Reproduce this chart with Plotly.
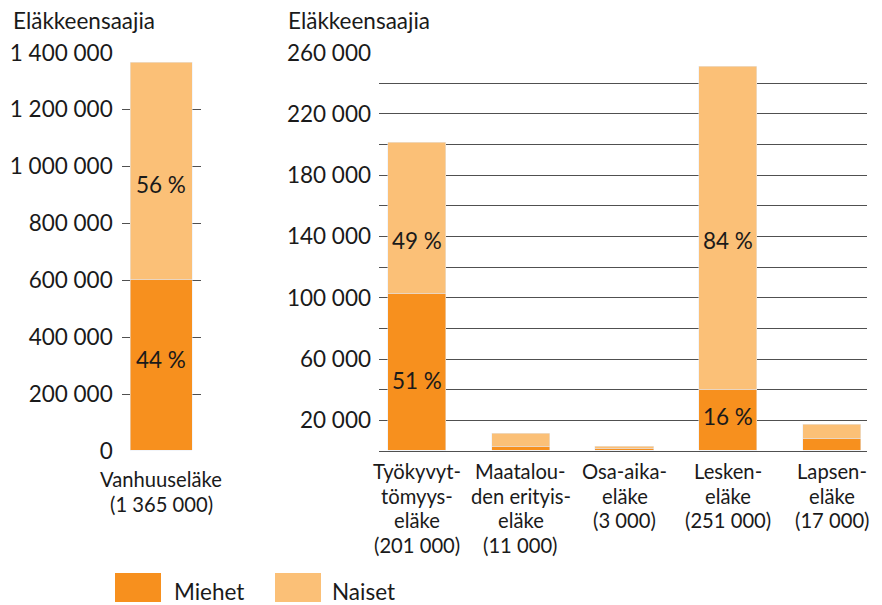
import plotly.graph_objects as go

# ---------------- data ----------------
left_cats = ["Vanhuuseläke"]
left_men = [601000]
left_women = [764000]
left_totals = ["1 365 000"]

right_cats = ["Työkyvyttömyyseläke", "Maatalouden erityiseläke", "Osa-aikaeläke",
              "Leskeneläke", "Lapseneläke"]
right_men = [102500, 3000, 1500, 40000, 8000]
right_women = [98500, 8000, 1500, 211000, 9000]
right_totals = ["201 000", "11 000", "3 000", "251 000", "17 000"]

left_label_lines = [["Vanhuuseläke", "(1 365 000)"]]
right_label_lines = [["Työkyvyt-", "tömyys-", "eläke", "(201 000)"],
                     ["Maatalou-", "den erityis-", "eläke", "(11 000)"],
                     ["Osa-aika-", "eläke", "(3 000)"],
                     ["Lesken-", "eläke", "(251 000)"],
                     ["Lapsen-", "eläke", "(17 000)"]]

left_ticks = [0, 200000, 400000, 600000, 800000, 1000000, 1200000, 1400000]
left_ticktext = ["0", "200 000", "400 000", "600 000", "800 000",
                 "1 000 000", "1 200 000", "1 400 000"]
right_ticks = [20000, 60000, 100000, 140000, 180000, 220000, 260000]
right_ticktext = ["20 000", "60 000", "100 000", "140 000", "180 000",
                  "220 000", "260 000"]
right_minor_grid = [40000, 80000, 120000, 160000, 200000, 240000]

# percentage labels: (axis, category, text, value-position)
pct_labels = [
    ("x", "y", "Vanhuuseläke", "56 %", 938000),
    ("x", "y", "Vanhuuseläke", "44 %", 320000),
    ("x2", "y2", "Työkyvyttömyyseläke", "49 %", 137700),
    ("x2", "y2", "Työkyvyttömyyseläke", "51 %", 45700),
    ("x2", "y2", "Leskeneläke", "84 %", 137700),
    ("x2", "y2", "Leskeneläke", "16 %", 22200),
]

# ---------------- style ----------------
MEN = "#F7901E"
WOMEN = "#FBC077"
TXT = "#1a1a1a"
GRID = "#505050"
FONT = "Lato"
W, H = 882, 605

def py(px):
    return 1 - px / H

def pxx(px):
    return px / W

fig = go.Figure()

fig.add_trace(go.Bar(x=left_cats, y=left_men, marker_color=MEN, width=0.785,
                     xaxis="x", yaxis="y", showlegend=False, hoverinfo="skip"))
fig.add_trace(go.Bar(x=left_cats, y=left_women, marker_color=WOMEN, width=0.785,
                     xaxis="x", yaxis="y", showlegend=False, hoverinfo="skip"))
fig.add_trace(go.Bar(x=right_cats, y=right_men, marker_color=MEN, width=0.56,
                     xaxis="x2", yaxis="y2", showlegend=False, hoverinfo="skip"))
fig.add_trace(go.Bar(x=right_cats, y=right_women, marker_color=WOMEN, width=0.56,
                     xaxis="x2", yaxis="y2", showlegend=False, hoverinfo="skip"))

ydom = [py(451), py(52.7)]

fig.update_layout(
    width=W, height=H,
    margin=dict(l=0, r=0, t=0, b=0, pad=0, autoexpand=False),
    paper_bgcolor="white", plot_bgcolor="white",
    barmode="stack", bargap=0, showlegend=False,
    font=dict(family=FONT, size=22, color=TXT),
    xaxis=dict(domain=[pxx(121.7), pxx(201)], range=[-0.5, 0.5],
               showticklabels=False, showgrid=False, zeroline=False,
               showline=False, ticks="", automargin=False),
    yaxis=dict(domain=ydom, range=[0, 1400000], tickvals=left_ticks,
               ticktext=left_ticktext, showgrid=True, gridcolor=GRID,
               gridwidth=1.2, zeroline=False, showline=False, ticks="",
               ticklabelstandoff=8, anchor="x", automargin=False,
               tickfont=dict(family=FONT, size=22.5, color=TXT)),
    xaxis2=dict(domain=[pxx(379), pxx(867)], range=[-0.366, 4.337],
                showticklabels=False, showgrid=False, zeroline=False,
                showline=False, ticks="", anchor="y2", automargin=False),
    yaxis2=dict(domain=ydom, range=[0, 260000], tickvals=right_ticks,
                ticktext=right_ticktext, showgrid=True, gridcolor=GRID,
                gridwidth=1.2, zeroline=True, zerolinecolor=GRID,
                zerolinewidth=1.2, showline=False, ticks="",
                ticklabelstandoff=7, anchor="x2", automargin=False,
                minor=dict(tickvals=right_minor_grid, showgrid=True,
                           gridcolor=GRID, gridwidth=1.2, ticks=""),
                tickfont=dict(family=FONT, size=22.5, color=TXT)),
)

ann = []
# axis titles
for tx in (11, 286):
    ann.append(dict(text="Eläkkeensaajia", xref="paper", yref="paper", x=pxx(tx),
                    y=py(21), xanchor="left", yanchor="middle", showarrow=False,
                    font=dict(size=22.5, color=TXT)))

# percentage labels
for xr, yr, cat, txt, val in pct_labels:
    ann.append(dict(text=txt, xref=xr, yref=yr, x=cat, y=val, showarrow=False,
                    xanchor="center", yanchor="middle",
                    font=dict(size=22.5, color=TXT)))

# category labels (one annotation per line for tight line spacing)
LBL = 20.2
for cat, lines in zip(left_cats, left_label_lines):
    for i, line in enumerate(lines):
        ann.append(dict(text=line, xref="x", yref="paper", x=cat,
                        y=py(479 + 24.5 * i), xanchor="center", yanchor="middle",
                        showarrow=False, borderpad=0,
                        font=dict(size=LBL, color=TXT)))
for cat, lines in zip(right_cats, right_label_lines):
    for i, line in enumerate(lines):
        ann.append(dict(text=line, xref="x2", yref="paper", x=cat,
                        y=py(471 + 24.5 * i), xanchor="center", yanchor="middle",
                        showarrow=False, borderpad=0,
                        font=dict(size=LBL, color=TXT)))

# legend
legend_items = [("Miehet", MEN, 115, 161, 174), ("Naiset", WOMEN, 275, 321, 332)]
shapes = []
for name, col, x0, x1, tx in legend_items:
    shapes.append(dict(type="rect", xref="paper", yref="paper",
                       x0=pxx(x0), x1=pxx(x1), y0=py(602), y1=py(573),
                       fillcolor=col, line=dict(width=0)))
    ann.append(dict(text=name, xref="paper", yref="paper", x=pxx(tx - 1),
                    y=py(591), xanchor="left", yanchor="middle", showarrow=False,
                    borderpad=0, font=dict(size=22.5, color=TXT)))

fig.update_layout(annotations=ann, shapes=shapes)

fig.write_html("out.html", config={"displayModeBar": False},
               post_script="document.body.style.margin='0';"
                           "document.body.style.overflow='hidden';")
